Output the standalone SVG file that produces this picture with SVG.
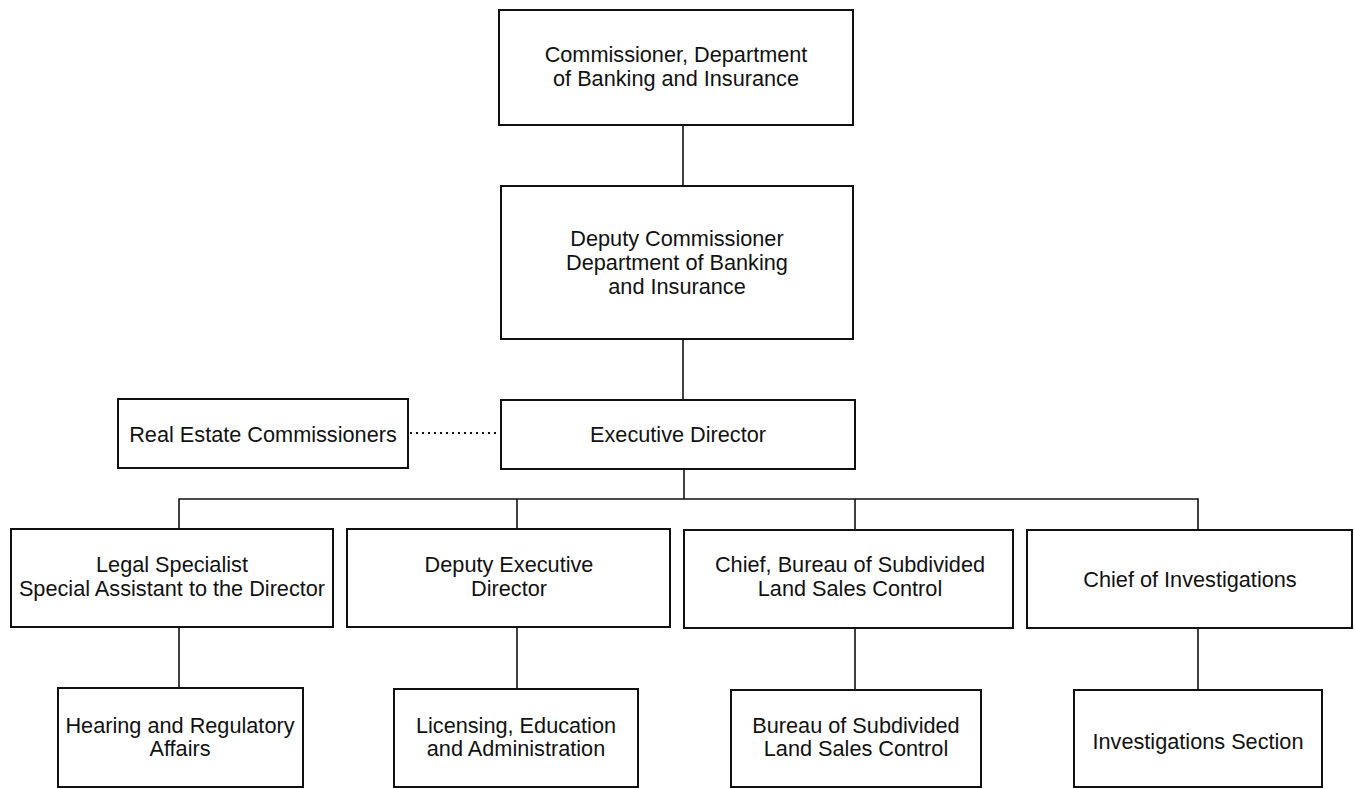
<svg xmlns="http://www.w3.org/2000/svg" width="1355" height="789" viewBox="0 0 1355 789">
<style>
.box{fill:#fff;stroke:#111;stroke-width:2}
.ln{fill:none;stroke:#111;stroke-width:1.6}
.dot{fill:none;stroke:#111;stroke-width:2;stroke-dasharray:2 4}
text{font-family:"Liberation Sans",Arial,sans-serif;font-size:21.7px;fill:#111;text-anchor:middle}
</style>
<rect width="1355" height="789" fill="#fff"/>
<g id="connectors">
<line class="ln" x1="683" y1="125" x2="683" y2="186"/>
<line class="ln" x1="683" y1="339" x2="683" y2="400"/>
<line class="ln" x1="684" y1="469" x2="684" y2="499"/>
<line class="dot" x1="410" y1="433" x2="500" y2="433"/>
<polyline class="ln" points="179,529 179,499 1198,499 1198,529"/>
<line class="ln" x1="517" y1="499" x2="517" y2="529"/>
<line class="ln" x1="855" y1="499" x2="855" y2="530"/>
<line class="ln" x1="179" y1="627" x2="179" y2="688"/>
<line class="ln" x1="517" y1="627" x2="517" y2="689"/>
<line class="ln" x1="855" y1="628" x2="855" y2="690"/>
<line class="ln" x1="1198" y1="628" x2="1198" y2="690"/>
</g>
<g id="commissioner">
<rect class="box" x="499" y="10" width="354" height="115"/>
<text x="676" y="62">Commissioner, Department</text>
<text x="676" y="86">of Banking and Insurance</text>
</g>
<g id="deputy-commissioner">
<rect class="box" x="501" y="186" width="352" height="153"/>
<text x="677" y="246">Deputy Commissioner</text>
<text x="677" y="270">Department of Banking</text>
<text x="677" y="294">and Insurance</text>
</g>
<g id="real-estate-commissioners">
<rect class="box" x="118" y="399" width="290" height="69"/>
<text x="263" y="442">Real Estate Commissioners</text>
</g>
<g id="executive-director">
<rect class="box" x="501" y="400" width="354" height="69"/>
<text x="678" y="442">Executive Director</text>
</g>
<g id="legal-specialist">
<rect class="box" x="11" y="529" width="322" height="98"/>
<text x="172" y="572">Legal Specialist</text>
<text x="172" y="596">Special Assistant to the Director</text>
</g>
<g id="deputy-executive-director">
<rect class="box" x="347" y="529" width="323" height="98"/>
<text x="509" y="572">Deputy Executive</text>
<text x="509" y="596">Director</text>
</g>
<g id="chief-bureau">
<rect class="box" x="684" y="530" width="329" height="98"/>
<text x="850" y="572">Chief, Bureau of Subdivided</text>
<text x="850" y="596">Land Sales Control</text>
</g>
<g id="chief-investigations">
<rect class="box" x="1027" y="530" width="325" height="98"/>
<text x="1190" y="587">Chief of Investigations</text>
</g>
<g id="hearing">
<rect class="box" x="58" y="688" width="245" height="99"/>
<text x="180" y="733">Hearing and Regulatory</text>
<text x="180" y="756">Affairs</text>
</g>
<g id="licensing">
<rect class="box" x="394" y="689" width="244" height="98"/>
<text x="516" y="733">Licensing, Education</text>
<text x="516" y="756">and Administration</text>
</g>
<g id="bureau">
<rect class="box" x="731" y="690" width="250" height="97"/>
<text x="856" y="733">Bureau of Subdivided</text>
<text x="856" y="756">Land Sales Control</text>
</g>
<g id="investigations-section">
<rect class="box" x="1074" y="690" width="248" height="97"/>
<text x="1198" y="749">Investigations Section</text>
</g>
</svg>
